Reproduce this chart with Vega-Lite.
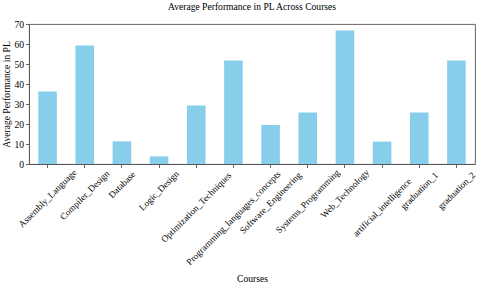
{
  "$schema": "https://vega.github.io/schema/vega-lite/v6.json",
  "autosize": "none",
  "width": 446,
  "height": 140,
  "padding": {"left": 29, "top": 24, "right": 5, "bottom": 121},
  "background": "white",
  "title": {
    "text": "Average Performance in PL Across Courses",
    "font": "Liberation Serif",
    "fontSize": 9.6,
    "fontWeight": "normal",
    "color": "black",
    "anchor": "middle",
    "offset": 7
  },
  "data": {
    "values": [
      {"course": "Assembly_Language", "pl": 36.2},
      {"course": "Compiler_Design", "pl": 59.3},
      {"course": "Database", "pl": 11.3},
      {"course": "Logic_Design", "pl": 3.8},
      {"course": "Optimization_Techniques", "pl": 29.3},
      {"course": "Programming_languages_concepts", "pl": 51.7},
      {"course": "Software_Engineering", "pl": 19.5},
      {"course": "Systems_Programming", "pl": 25.8},
      {"course": "Web_Technology", "pl": 66.7},
      {"course": "artificial_intelligence", "pl": 11.2},
      {"course": "graduation_1", "pl": 25.8},
      {"course": "graduation_2", "pl": 51.7}
    ]
  },
  "mark": {"type": "bar", "color": "#87CEEB"},
  "encoding": {
    "x": {
      "field": "course",
      "type": "nominal",
      "sort": null,
      "title": "Courses",
      "scale": {"paddingInner": 0.5, "paddingOuter": 0.25},
      "axis": {
        "labelAngle": -45,
        "labelAlign": "center",
        "labelBaseline": "middle",
        "labelPadding": {"expr": "4.5 + 1.52*length(datum.label)"},
        "labelFontSize": 9.2,
        "labelOverlap": false,
        "labelBound": false,
        "tickSize": 3.5,
        "titlePadding": 7
      }
    },
    "y": {
      "field": "pl",
      "type": "quantitative",
      "title": "Average Performance in PL",
      "scale": {"domain": [0, 70], "nice": false},
      "axis": {"values": [0, 10, 20, 30, 40, 50, 60, 70], "tickSize": 3.5, "labelPadding": 2, "titlePadding": 2}
    }
  },
  "config": {
    "font": "Liberation Serif",
    "view": {"stroke": "#555555", "strokeWidth": 0.9},
    "axis": {
      "grid": false,
      "domainColor": "#555555",
      "domainWidth": 0.9,
      "tickColor": "#555555",
      "tickWidth": 0.9,
      "labelFont": "Liberation Serif",
      "labelFontSize": 9.6,
      "labelColor": "black",
      "titleFont": "Liberation Serif",
      "titleFontSize": 9.6,
      "titleFontWeight": "normal",
      "titleColor": "black"
    }
  }
}
